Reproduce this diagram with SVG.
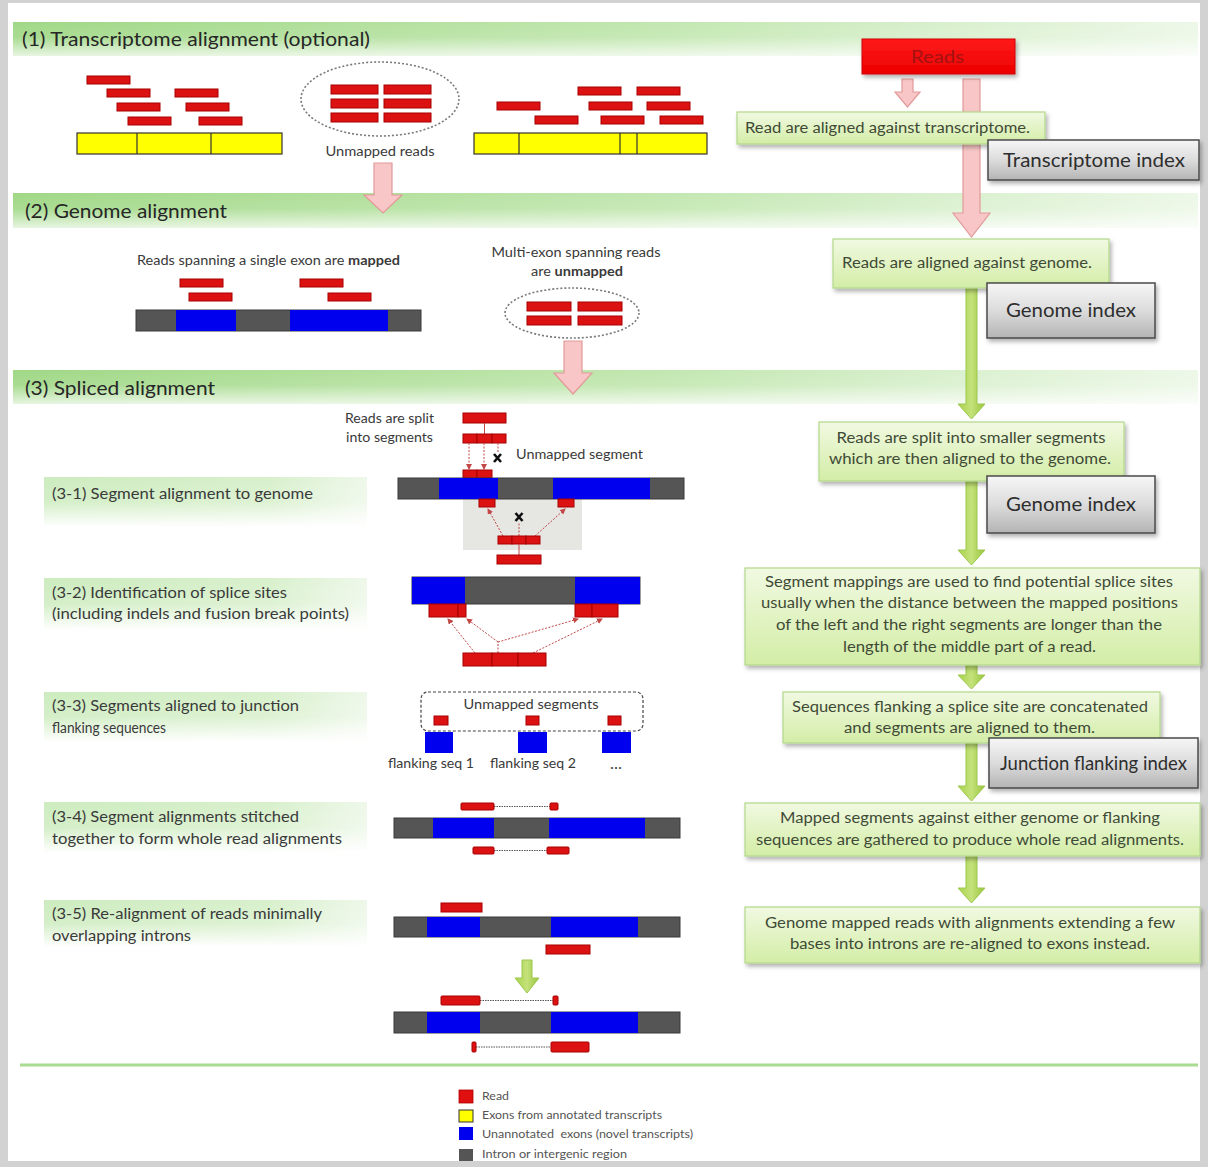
<svg xmlns="http://www.w3.org/2000/svg" width="1208" height="1167" viewBox="0 0 1208 1167">
  <defs>
    <linearGradient id="bandH" x1="0" y1="0" x2="1" y2="0">
      <stop offset="0" stop-color="#a0d886"/>
      <stop offset="0.55" stop-color="#c2e7b0"/>
      <stop offset="1" stop-color="#edf8e8"/>
    </linearGradient>
    <linearGradient id="bandV" x1="0" y1="0" x2="0" y2="1">
      <stop offset="0" stop-color="#ffffff" stop-opacity="0"/>
      <stop offset="0.45" stop-color="#ffffff" stop-opacity="0.1"/>
      <stop offset="1" stop-color="#ffffff" stop-opacity="0.75"/>
    </linearGradient>
    <linearGradient id="subH" x1="0" y1="0" x2="1" y2="0">
      <stop offset="0" stop-color="#cdecbf"/>
      <stop offset="0.7" stop-color="#d8f0cc"/>
      <stop offset="1" stop-color="#eef8ea"/>
    </linearGradient>
    <linearGradient id="subV" x1="0" y1="0" x2="0" y2="1">
      <stop offset="0" stop-color="#ffffff" stop-opacity="0"/>
      <stop offset="0.5" stop-color="#ffffff" stop-opacity="0.15"/>
      <stop offset="1" stop-color="#ffffff" stop-opacity="1"/>
    </linearGradient>
    <linearGradient id="boxG" x1="0" y1="0" x2="0" y2="1">
      <stop offset="0" stop-color="#f1f9e2"/>
      <stop offset="1" stop-color="#d3eda6"/>
    </linearGradient>
    <linearGradient id="idxG" x1="0" y1="0" x2="0" y2="1">
      <stop offset="0" stop-color="#f6f6f6"/>
      <stop offset="0.5" stop-color="#dcdcdc"/>
      <stop offset="1" stop-color="#b4b4b4"/>
    </linearGradient>
    <linearGradient id="readsG" x1="0" y1="0" x2="0" y2="1">
      <stop offset="0" stop-color="#ff1a1a"/>
      <stop offset="1" stop-color="#ec0000"/>
    </linearGradient>
    <linearGradient id="arrG" x1="0" y1="0" x2="1" y2="0">
      <stop offset="0" stop-color="#a9d24c"/>
      <stop offset="0.5" stop-color="#c4e27a"/>
      <stop offset="1" stop-color="#98c43c"/>
    </linearGradient>
    <filter id="sh" x="-10%" y="-20%" width="125%" height="150%">
      <feDropShadow dx="2" dy="3" stdDeviation="2" flood-color="#000" flood-opacity="0.3"/>
    </filter>
    <marker id="ah" markerWidth="6" markerHeight="6" refX="5" refY="3" orient="auto" markerUnits="userSpaceOnUse">
      <path d="M0,0 L6,3 L0,6 z" fill="#c24848"/>
    </marker>
    <style>
      text { font-family: Lato, "Open Sans", "Liberation Sans", sans-serif; fill: #333; }
      .hd { font-size: 19px; fill: #262626; }
      .sub { font-size: 14.5px; fill: #3a3a3a; }
      .bx { font-size: 14.5px; fill: #3f4a36; }
      .ix { font-size: 19px; fill: #2e2e2e; }
      .sm { font-size: 12.5px; fill: #3a3a3a; }
      .lg { font-size: 10.5px; fill: #555; }
      .rd { fill: #dc1212; stroke: #a80000; stroke-width: 1; }
      .yl { fill: #ffff00; stroke: #333; stroke-width: 1.2; }
      .gr { fill: #555555; stroke: #3a3a3a; stroke-width: 1; }
      .bl { fill: #0000ee; }
      .box { fill: url(#boxG); stroke: #b3d78a; stroke-width: 1.2; filter: url(#sh); }
      .idx { fill: url(#idxG); stroke: #4a4a4a; stroke-width: 1.5; filter: url(#sh); }
      .pk { fill: #f8c6c6; stroke: #e29a9a; stroke-width: 1.2; }
      .ga { fill: url(#arrG); stroke: #9cc84e; stroke-width: 1; }
      .dl { stroke: #c24848; stroke-width: 1; stroke-dasharray: 2 1.5; fill: none; }
      .dt { stroke: #555; stroke-width: 1.2; stroke-dasharray: 1.5 1; fill: none; }
      .ell { fill: none; stroke: #7a7a7a; stroke-width: 1.6; stroke-dasharray: 2 2; }
      .xm { stroke: #111; stroke-width: 2.6; }
    </style>
  </defs>

  <!-- frame -->
  <rect x="0" y="0" width="1208" height="1167" fill="#d2d2d2"/>
  <rect x="8" y="3" width="1192" height="1158" fill="#ffffff"/>

  <!-- section header bands -->
  <g id="band1">
    <rect x="13" y="22" width="1185" height="34" fill="url(#bandH)"/>
    <rect x="13" y="22" width="1185" height="34" fill="url(#bandV)"/>
    <text class="hd" x="22" y="46" textLength="348" lengthAdjust="spacingAndGlyphs">(1) Transcriptome alignment (optional)</text>
  </g>
  <g id="band2">
    <rect x="13" y="193" width="1185" height="35" fill="url(#bandH)"/>
    <rect x="13" y="193" width="1185" height="35" fill="url(#bandV)"/>
    <text class="hd" x="25" y="218" textLength="202" lengthAdjust="spacingAndGlyphs">(2) Genome alignment</text>
  </g>
  <g id="band3">
    <rect x="13" y="370" width="1185" height="34" fill="url(#bandH)"/>
    <rect x="13" y="370" width="1185" height="34" fill="url(#bandV)"/>
    <text class="hd" x="25" y="395" textLength="190" lengthAdjust="spacingAndGlyphs">(3) Spliced alignment</text>
  </g>

  <!-- connectors -->
  <g id="connectors">
    <!-- unmapped reads to genome alignment -->
    <path class="pk" d="M374,163 H392 V195 H402 L383,213 L364,195 H374 Z"/>
    <!-- unmapped multi-exon reads to spliced alignment -->
    <path class="pk" d="M564,341 H582 V373 H592 L573,394 L554,373 H564 Z"/>
    <!-- reads to transcriptome alignment -->
    <path class="pk" d="M902,79 H913 V92 H920 L907.5,107 L895,92 H902 Z"/>
    <!-- reads to genome alignment -->
    <path class="pk" d="M963,79 H980 V213 H990 L971.5,237 L953,213 H963 Z"/>
    <!-- pipeline arrows -->
    <path class="ga" d="M966,288 H977 V404 H985 L971.5,419 L958,404 H966 Z"/>
    <path class="ga" d="M966,481 H977 V550 H985 L971.5,565 L958,550 H966 Z"/>
    <path class="ga" d="M966,665 H977 V675 H985 L971.5,689 L958,675 H966 Z"/>
    <path class="ga" d="M966,743 H977 V786 H985 L971.5,801 L958,786 H966 Z"/>
    <path class="ga" d="M966,856 H977 V888 H985 L971.5,903 L958,888 H966 Z"/>
    <!-- re-alignment arrow -->
    <path class="ga" d="M522,960 H532 V978 H539 L527,993 L515,978 H522 Z"/>
  </g>

  <!-- (1) transcriptome alignment drawing -->
  <g id="tx-left">
    <rect class="rd" x="87" y="76" width="43" height="8"/>
    <rect class="rd" x="107" y="89" width="43" height="8"/>
    <rect class="rd" x="117" y="103" width="43" height="8"/>
    <rect class="rd" x="128" y="117" width="43" height="8"/>
    <rect class="rd" x="175" y="89" width="43" height="8"/>
    <rect class="rd" x="186" y="103" width="43" height="8"/>
    <rect class="rd" x="199" y="117" width="43" height="8"/>
    <rect class="yl" x="77" y="133" width="205" height="21"/>
    <line x1="137" y1="133" x2="137" y2="154" stroke="#333" stroke-width="1.2"/>
    <line x1="211" y1="133" x2="211" y2="154" stroke="#333" stroke-width="1.2"/>
  </g>
  <g id="tx-unmapped">
    <ellipse class="ell" cx="380" cy="99" rx="79" ry="37"/>
    <rect class="rd" x="331" y="85" width="47" height="9"/>
    <rect class="rd" x="384" y="85" width="47" height="9"/>
    <rect class="rd" x="331" y="99" width="47" height="9"/>
    <rect class="rd" x="384" y="99" width="47" height="9"/>
    <rect class="rd" x="331" y="113" width="47" height="9"/>
    <rect class="rd" x="384" y="113" width="47" height="9"/>
    <text class="sm" x="380" y="156" text-anchor="middle" textLength="109" lengthAdjust="spacingAndGlyphs">Unmapped reads</text>
  </g>
  <g id="tx-right">
    <rect class="rd" x="497" y="102" width="43" height="8"/>
    <rect class="rd" x="535" y="116" width="43" height="8"/>
    <rect class="rd" x="578" y="87" width="43" height="8"/>
    <rect class="rd" x="589" y="102" width="43" height="8"/>
    <rect class="rd" x="601" y="116" width="43" height="8"/>
    <rect class="rd" x="637" y="87" width="43" height="8"/>
    <rect class="rd" x="647" y="102" width="43" height="8"/>
    <rect class="rd" x="660" y="116" width="43" height="8"/>
    <rect class="yl" x="474" y="133" width="233" height="21"/>
    <line x1="519" y1="133" x2="519" y2="154" stroke="#333" stroke-width="1.2"/>
    <line x1="620" y1="133" x2="620" y2="154" stroke="#333" stroke-width="1.2"/>
    <line x1="637" y1="133" x2="637" y2="154" stroke="#333" stroke-width="1.2"/>
  </g>

  <!-- pipeline nodes -->
  <g id="reads">
    <rect x="862" y="39" width="153" height="35" fill="url(#readsG)" stroke="#d00000" stroke-width="1" filter="url(#sh)"/>
    <text x="937.5" y="63" text-anchor="middle" font-size="18" style="fill:#a31212" textLength="53" lengthAdjust="spacingAndGlyphs">Reads</text>
  </g>
  <g id="step-transcriptome">
    <rect class="box" x="737" y="112" width="308" height="32"/>
    <text class="bx" x="745" y="133" textLength="285" lengthAdjust="spacingAndGlyphs">Read are aligned against transcriptome.</text>
  </g>
  <g id="idx-transcriptome">
    <rect class="idx" x="988" y="140" width="211" height="40"/>
    <text class="ix" x="1094" y="167" text-anchor="middle" textLength="182" lengthAdjust="spacingAndGlyphs">Transcriptome index</text>
  </g>

  <!-- (2) genome alignment drawing -->
  <g id="gn-mapped">
    <text class="sm" x="137" y="265" font-size="13" textLength="263" lengthAdjust="spacingAndGlyphs">Reads spanning a single exon are <tspan font-weight="bold">mapped</tspan></text>
    <rect class="rd" x="180" y="279" width="43" height="8"/>
    <rect class="rd" x="189" y="293" width="43" height="8"/>
    <rect class="rd" x="300" y="279" width="43" height="8"/>
    <rect class="rd" x="328" y="293" width="43" height="8"/>
    <rect class="gr" x="136" y="310" width="285" height="21"/>
    <rect class="bl" x="176" y="310" width="60" height="21"/>
    <rect class="bl" x="290" y="310" width="98" height="21"/>
  </g>
  <g id="gn-unmapped">
    <text class="sm" x="576" y="257" text-anchor="middle" textLength="169" lengthAdjust="spacingAndGlyphs">Multi-exon spanning reads</text>
    <text class="sm" x="577" y="276" text-anchor="middle" textLength="92" lengthAdjust="spacingAndGlyphs">are <tspan font-weight="bold">unmapped</tspan></text>
    <ellipse class="ell" cx="572" cy="313" rx="67" ry="25"/>
    <rect class="rd" x="527" y="302" width="44" height="9"/>
    <rect class="rd" x="578" y="302" width="44" height="9"/>
    <rect class="rd" x="527" y="316" width="44" height="9"/>
    <rect class="rd" x="578" y="316" width="44" height="9"/>
  </g>

  <g id="step-genome">
    <rect class="box" x="833" y="239" width="276" height="49"/>
    <text class="bx" x="842" y="268" textLength="250" lengthAdjust="spacingAndGlyphs">Reads are aligned against genome.</text>
  </g>
  <g id="idx-genome-1">
    <rect class="idx" x="987" y="283" width="168" height="55"/>
    <text class="ix" x="1071" y="317" text-anchor="middle" textLength="130" lengthAdjust="spacingAndGlyphs">Genome index</text>
  </g>

  <!-- (3) spliced alignment sub-step labels -->
  <g id="label-3-1">
    <rect x="44" y="477" width="323" height="50" fill="url(#subH)"/>
    <rect x="44" y="477" width="323" height="50" fill="url(#subV)"/>
    <text class="sub" x="52" y="499" textLength="261" lengthAdjust="spacingAndGlyphs">(3-1) Segment alignment to genome</text>
  </g>
  <g id="label-3-2">
    <rect x="44" y="578" width="323" height="52" fill="url(#subH)"/>
    <rect x="44" y="578" width="323" height="52" fill="url(#subV)"/>
    <text class="sub" x="52" y="598" textLength="235" lengthAdjust="spacingAndGlyphs">(3-2) Identification of splice sites</text>
    <text class="sub" x="52" y="619" textLength="297" lengthAdjust="spacingAndGlyphs">(including indels and fusion break points)</text>
  </g>
  <g id="label-3-3">
    <rect x="44" y="692" width="323" height="50" fill="url(#subH)"/>
    <rect x="44" y="692" width="323" height="50" fill="url(#subV)"/>
    <text class="sub" x="52" y="711" textLength="247" lengthAdjust="spacingAndGlyphs">(3-3) Segments aligned to junction</text>
    <text class="sub" x="52" y="733" textLength="114" lengthAdjust="spacingAndGlyphs">flanking sequences</text>
  </g>
  <g id="label-3-4">
    <rect x="44" y="802" width="323" height="51" fill="url(#subH)"/>
    <rect x="44" y="802" width="323" height="51" fill="url(#subV)"/>
    <text class="sub" x="52" y="822" textLength="247" lengthAdjust="spacingAndGlyphs">(3-4) Segment alignments stitched</text>
    <text class="sub" x="52" y="844" textLength="290" lengthAdjust="spacingAndGlyphs">together to form whole read alignments</text>
  </g>
  <g id="label-3-5">
    <rect x="44" y="900" width="323" height="47" fill="url(#subH)"/>
    <rect x="44" y="900" width="323" height="47" fill="url(#subV)"/>
    <text class="sub" x="52" y="919" textLength="270" lengthAdjust="spacingAndGlyphs">(3-5) Re-alignment of reads minimally</text>
    <text class="sub" x="52" y="941" textLength="139" lengthAdjust="spacingAndGlyphs">overlapping introns</text>
  </g>

  <!-- (3-1) segment alignment drawing -->
  <g id="draw-3-1">
    <text class="sm" x="434" y="423" text-anchor="end" font-size="12" textLength="89" lengthAdjust="spacingAndGlyphs">Reads are split</text>
    <text class="sm" x="433" y="442" text-anchor="end" font-size="12" textLength="87" lengthAdjust="spacingAndGlyphs">into segments</text>
    <rect x="463" y="499" width="119" height="51" fill="#e6e6e2"/>
    <rect class="rd" x="463" y="413" width="43" height="10"/>
    <line x1="484.5" y1="423" x2="484.5" y2="434" stroke="#c24848" stroke-width="1"/>
    <rect class="rd" x="463" y="434" width="14" height="9"/>
    <rect class="rd" x="477" y="434" width="15" height="9"/>
    <rect class="rd" x="492" y="434" width="14" height="9"/>
    <line class="dl" x1="469" y1="443" x2="469" y2="469" marker-end="url(#ah)"/>
    <line class="dl" x1="484" y1="443" x2="484" y2="469" marker-end="url(#ah)"/>
    <line class="dl" x1="498" y1="443" x2="498" y2="453"/>
    <path class="xm" d="M494,454 L501,462 M501,454 L494,462"/>
    <text class="sm" x="516" y="459" font-size="13" textLength="127" lengthAdjust="spacingAndGlyphs">Unmapped segment</text>
    <rect class="rd" x="463" y="470" width="14" height="8"/>
    <rect class="rd" x="477" y="470" width="15" height="8"/>
    <rect class="gr" x="398" y="478" width="286" height="21"/>
    <rect class="bl" x="439" y="478" width="59" height="21"/>
    <rect class="bl" x="553" y="478" width="97" height="21"/>
    <rect class="rd" x="479" y="499" width="16" height="8"/>
    <rect class="rd" x="558" y="499" width="16" height="8"/>
    <line class="dl" x1="503" y1="536" x2="488" y2="509" marker-end="url(#ah)"/>
    <line class="dl" x1="519" y1="536" x2="519" y2="523"/>
    <line class="dl" x1="535" y1="536" x2="565" y2="509" marker-end="url(#ah)"/>
    <path class="xm" d="M515.5,513 L522.5,521 M522.5,513 L515.5,521"/>
    <rect class="rd" x="498" y="536" width="14" height="8"/>
    <rect class="rd" x="512" y="536" width="14" height="8"/>
    <rect class="rd" x="526" y="536" width="14" height="8"/>
    <line x1="519" y1="544" x2="519" y2="555" stroke="#c24848" stroke-width="1"/>
    <rect class="rd" x="497" y="555" width="44" height="9"/>
  </g>

  <!-- (3-2) splice site drawing -->
  <g id="draw-3-2">
    <rect class="gr" x="412" y="577" width="228" height="27"/>
    <rect class="bl" x="412" y="577" width="53" height="27"/>
    <rect class="bl" x="575" y="577" width="65" height="27"/>
    <rect class="rd" x="429" y="604" width="29" height="13"/>
    <rect class="rd" x="458" y="604" width="8" height="13"/>
    <rect class="rd" x="575" y="604" width="17" height="13"/>
    <rect class="rd" x="592" y="604" width="26" height="13"/>
    <line class="dl" x1="475" y1="653" x2="448" y2="619" marker-end="url(#ah)"/>
    <line class="dl" x1="498" y1="653" x2="498" y2="642"/>
    <line class="dl" x1="498" y1="642" x2="467" y2="619" marker-end="url(#ah)"/>
    <line class="dl" x1="498" y1="642" x2="578" y2="619" marker-end="url(#ah)"/>
    <line class="dl" x1="533" y1="653" x2="602" y2="619" marker-end="url(#ah)"/>
    <rect class="rd" x="463" y="653" width="29" height="13"/>
    <rect class="rd" x="492" y="653" width="26" height="13"/>
    <rect class="rd" x="518" y="653" width="28" height="13"/>
  </g>

  <!-- (3-3) junction flanking drawing -->
  <g id="draw-3-3">
    <rect x="421" y="692" width="222" height="39" rx="7" fill="none" stroke="#444" stroke-width="1.2" stroke-dasharray="3 2"/>
    <text class="sm" x="531" y="709" text-anchor="middle" font-size="12" textLength="135" lengthAdjust="spacingAndGlyphs">Unmapped segments</text>
    <rect class="rd" x="434" y="716" width="14" height="9"/>
    <rect class="rd" x="526" y="716" width="13" height="9"/>
    <rect class="rd" x="608" y="716" width="13" height="9"/>
    <rect class="bl" x="425" y="732" width="28" height="21"/>
    <rect class="bl" x="518" y="732" width="29" height="21"/>
    <rect class="bl" x="602" y="732" width="29" height="21"/>
    <text class="sm" x="388" y="768" font-size="12" textLength="86" lengthAdjust="spacingAndGlyphs">flanking seq 1</text>
    <text class="sm" x="490" y="768" font-size="12" textLength="86" lengthAdjust="spacingAndGlyphs">flanking seq 2</text>
    <text class="sm" x="616.5" y="769" text-anchor="middle" font-size="15" font-weight="bold" letter-spacing="1">...</text>
  </g>

  <!-- (3-4) stitched alignments drawing -->
  <g id="draw-3-4">
    <line class="dt" x1="494" y1="806.5" x2="550" y2="806.5"/>
    <rect class="rd" x="461" y="803" width="33" height="7" rx="1"/>
    <rect class="rd" x="550" y="803" width="8" height="7" rx="1"/>
    <rect class="gr" x="394" y="818" width="286" height="20"/>
    <rect class="bl" x="433" y="818" width="61" height="20"/>
    <rect class="bl" x="549" y="818" width="96" height="20"/>
    <line class="dt" x1="494" y1="850.5" x2="547" y2="850.5"/>
    <rect class="rd" x="473" y="847" width="21" height="7" rx="1"/>
    <rect class="rd" x="547" y="847" width="22" height="7" rx="1"/>
  </g>

  <!-- (3-5) re-alignment drawing -->
  <g id="draw-3-5">
    <rect class="rd" x="441" y="903" width="41" height="9"/>
    <rect class="gr" x="394" y="917" width="286" height="20"/>
    <rect class="bl" x="427" y="917" width="53" height="20"/>
    <rect class="bl" x="551" y="917" width="87" height="20"/>
    <rect class="rd" x="546" y="945" width="44" height="9"/>
    <line class="dt" x1="480" y1="1000.5" x2="553" y2="1000.5"/>
    <rect class="rd" x="441" y="996" width="39" height="9" rx="1"/>
    <rect class="rd" x="553" y="996" width="5" height="9" rx="1"/>
    <rect class="gr" x="394" y="1012" width="286" height="21"/>
    <rect class="bl" x="427" y="1012" width="53" height="21"/>
    <rect class="bl" x="551" y="1012" width="87" height="21"/>
    <line class="dt" x1="476" y1="1047" x2="551" y2="1047"/>
    <rect class="rd" x="472" y="1042" width="4" height="10" rx="1"/>
    <rect class="rd" x="551" y="1042" width="38" height="10" rx="1"/>
  </g>

  <!-- spliced pipeline nodes -->
  <g id="step-split">
    <rect class="box" x="819" y="422" width="305" height="59"/>
    <text class="bx" x="971" y="443" text-anchor="middle" textLength="269" lengthAdjust="spacingAndGlyphs">Reads are split into smaller segments</text>
    <text class="bx" x="970" y="464" text-anchor="middle" textLength="282" lengthAdjust="spacingAndGlyphs">which are then aligned to the genome.</text>
  </g>
  <g id="idx-genome-2">
    <rect class="idx" x="987" y="476" width="168" height="57"/>
    <text class="ix" x="1071" y="511" text-anchor="middle" textLength="130" lengthAdjust="spacingAndGlyphs">Genome index</text>
  </g>
  <g id="step-splice-sites">
    <rect class="box" x="745" y="568" width="455" height="97"/>
    <text class="bx" x="969" y="587" text-anchor="middle" textLength="408" lengthAdjust="spacingAndGlyphs">Segment mappings are used to find potential splice sites</text>
    <text class="bx" x="969.5" y="608" text-anchor="middle" textLength="417" lengthAdjust="spacingAndGlyphs">usually when the distance between the mapped positions</text>
    <text class="bx" x="969" y="630" text-anchor="middle" textLength="386" lengthAdjust="spacingAndGlyphs">of the left and the right segments are longer than the</text>
    <text class="bx" x="969.5" y="652" text-anchor="middle" textLength="253" lengthAdjust="spacingAndGlyphs">length of the middle part of a read.</text>
  </g>
  <g id="step-flanking">
    <rect class="box" x="783" y="692" width="377" height="51"/>
    <text class="bx" x="970" y="712" text-anchor="middle" textLength="356" lengthAdjust="spacingAndGlyphs">Sequences flanking a splice site are concatenated</text>
    <text class="bx" x="969.5" y="733" text-anchor="middle" textLength="251" lengthAdjust="spacingAndGlyphs">and segments are aligned to them.</text>
  </g>
  <g id="idx-junction">
    <rect class="idx" x="989" y="738" width="209" height="50"/>
    <text class="ix" x="1093.5" y="770" text-anchor="middle" textLength="187" lengthAdjust="spacingAndGlyphs">Junction flanking index</text>
  </g>
  <g id="step-stitch">
    <rect class="box" x="745" y="803" width="455" height="53"/>
    <text class="bx" x="970" y="823" text-anchor="middle" textLength="380" lengthAdjust="spacingAndGlyphs">Mapped segments against either genome or flanking</text>
    <text class="bx" x="970" y="845" text-anchor="middle" textLength="428" lengthAdjust="spacingAndGlyphs">sequences are gathered to produce whole read alignments.</text>
  </g>
  <g id="step-realign">
    <rect class="box" x="745" y="907" width="455" height="56"/>
    <text class="bx" x="970" y="928" text-anchor="middle" textLength="410" lengthAdjust="spacingAndGlyphs">Genome mapped reads with alignments extending a few</text>
    <text class="bx" x="970" y="949" text-anchor="middle" textLength="360" lengthAdjust="spacingAndGlyphs">bases into introns are re-aligned to exons instead.</text>
  </g>

  <!-- footer rule and legend -->
  <line x1="20" y1="1065" x2="1198" y2="1065" stroke="#a8dc92" stroke-width="3"/>
  <g id="legend">
    <rect x="459" y="1090" width="14" height="13" fill="#e01010" stroke="#b00000" stroke-width="0.8"/>
    <text class="lg" x="482" y="1100" textLength="27" lengthAdjust="spacingAndGlyphs">Read</text>
    <rect x="459" y="1110" width="14" height="12" fill="#ffff00" stroke="#333" stroke-width="1"/>
    <text class="lg" x="482" y="1119" textLength="180" lengthAdjust="spacingAndGlyphs">Exons from annotated transcripts</text>
    <rect x="459" y="1127" width="14" height="13" fill="#0000ee"/>
    <text class="lg" x="482" y="1138" xml:space="preserve" textLength="211" lengthAdjust="spacingAndGlyphs">Unannotated  exons (novel transcripts)</text>
    <rect x="459" y="1149" width="14" height="12" fill="#555"/>
    <text class="lg" x="482" y="1158" textLength="145" lengthAdjust="spacingAndGlyphs">Intron or intergenic region</text>
  </g>
</svg>
